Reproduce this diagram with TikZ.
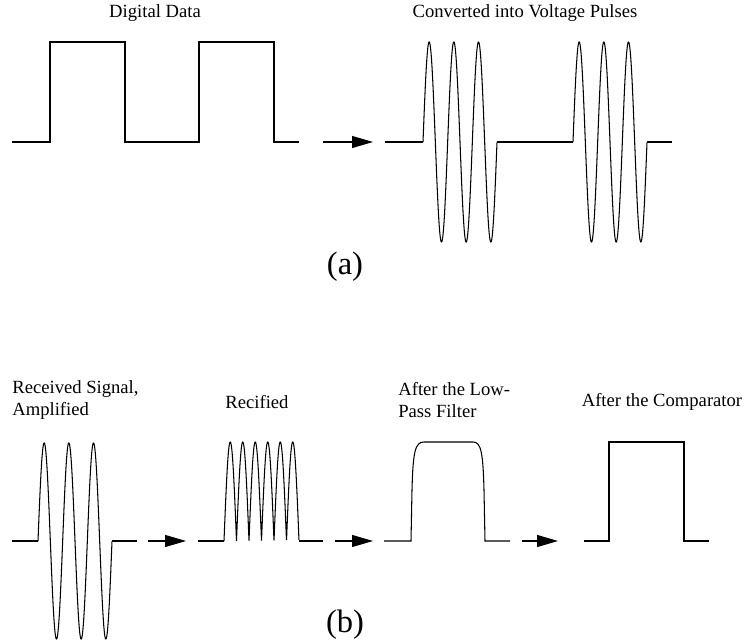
\documentclass[tikz,border=0pt]{standalone}
\usepackage{fontspec}
\setmainfont{Liberation Serif}
\usetikzlibrary{arrows.meta,positioning}

\begin{document}
\begin{tikzpicture}[
    x=0.02cm, y=-0.02cm,
    wave/.style={line width=0.6pt, line join=miter},
    lbl/.style={font=\fontsize{10.6}{12}\selectfont, inner sep=0pt, align=left},
    part/.style={font=\fontsize{18.5}{21}\selectfont, inner sep=0pt},
    flow/.style={line width=0.6pt, -{Triangle[length=0.42cm, width=0.24cm]}}
  ]
  \useasboundingbox (0,0) rectangle (748,644);

  % (a) digital data
  \node[lbl] (dataLbl) at (155,13) {Digital Data};
  \draw[wave] (12,142) -- (50,142) -- (50,42) -- (125,42) -- (125,142)
    -- (199,142) -- (199,42) -- (274,42) -- (274,142) -- (299,142);

  % (a) arrow
  \coordinate (aFrom) at (323,142);
  \coordinate (aTo) at (373,142);
  \draw[flow] (aFrom) -- (aTo);

  % (a) voltage pulses
  \node[lbl] (pulseLbl) at (525,13) {Converted into Voltage Pulses};
  \draw[wave] (385,142) -- (423,142);
  \draw[wave] plot[domain=0:3, samples=361, smooth]
    ({423+24.67*\x},{142-100*sin(360*\x)});
  \draw[wave] (497,142) -- (573,142);
  \draw[wave] plot[domain=0:3, samples=361, smooth]
    ({573+24.67*\x},{142-100*sin(360*\x)});
  \draw[wave] (647,142) -- (672,142);

  \node[part] (partA) at (345,267) {(a)};

  % (b) received signal
  \node[lbl, anchor=west] (rxLbl) at (12,400) {Received Signal,\\Amplified};
  \draw[wave] (12,541) -- (38,541);
  \draw[wave] plot[domain=0:3, samples=361, smooth]
    ({38+24.67*\x},{541-98*sin(360*\x)});
  \draw[wave] (112,541) -- (137,541);

  \coordinate (b1From) at (148,541);
  \coordinate (b1To) at (186,541);
  \draw[flow] (b1From) -- (b1To);

  % (b) rectified
  \node[lbl] (rectLbl) at (257,402) {Recified};
  \draw[wave] (198,541) -- (224,541);
  \draw[wave] plot[domain=0:6, samples=301]
    ({224+12.5*\x},{541-99*abs(sin(180*\x))});
  \draw[wave] (299,541) -- (323,541);

  \coordinate (b2From) at (335,541);
  \coordinate (b2To) at (373,541);
  \draw[flow] (b2From) -- (b2To);

  % (b) low-pass filter
  \node[lbl, anchor=west] (lpLbl) at (398,400) {After the Low-\\Pass Filter};
  \draw[wave] (384,541) -- (411,541) -- (412,490)
    .. controls (413,452) and (415,442) .. (424,442) -- (473,442)
    .. controls (481,442) and (483,452) .. (484,490) -- (485,541) -- (510,541);

  \coordinate (b3From) at (522,541);
  \coordinate (b3To) at (558,541);
  \draw[flow] (b3From) -- (b3To);

  % (b) comparator
  \node[lbl] (cmpLbl) at (662,402) {After the Comparator};
  \draw[wave] (584,541) -- (609,541) -- (609,442) -- (684,442) -- (684,541)
    -- (709,541);

  \node[part] (partB) at (345,625) {(b)};
\end{tikzpicture}
\end{document}
